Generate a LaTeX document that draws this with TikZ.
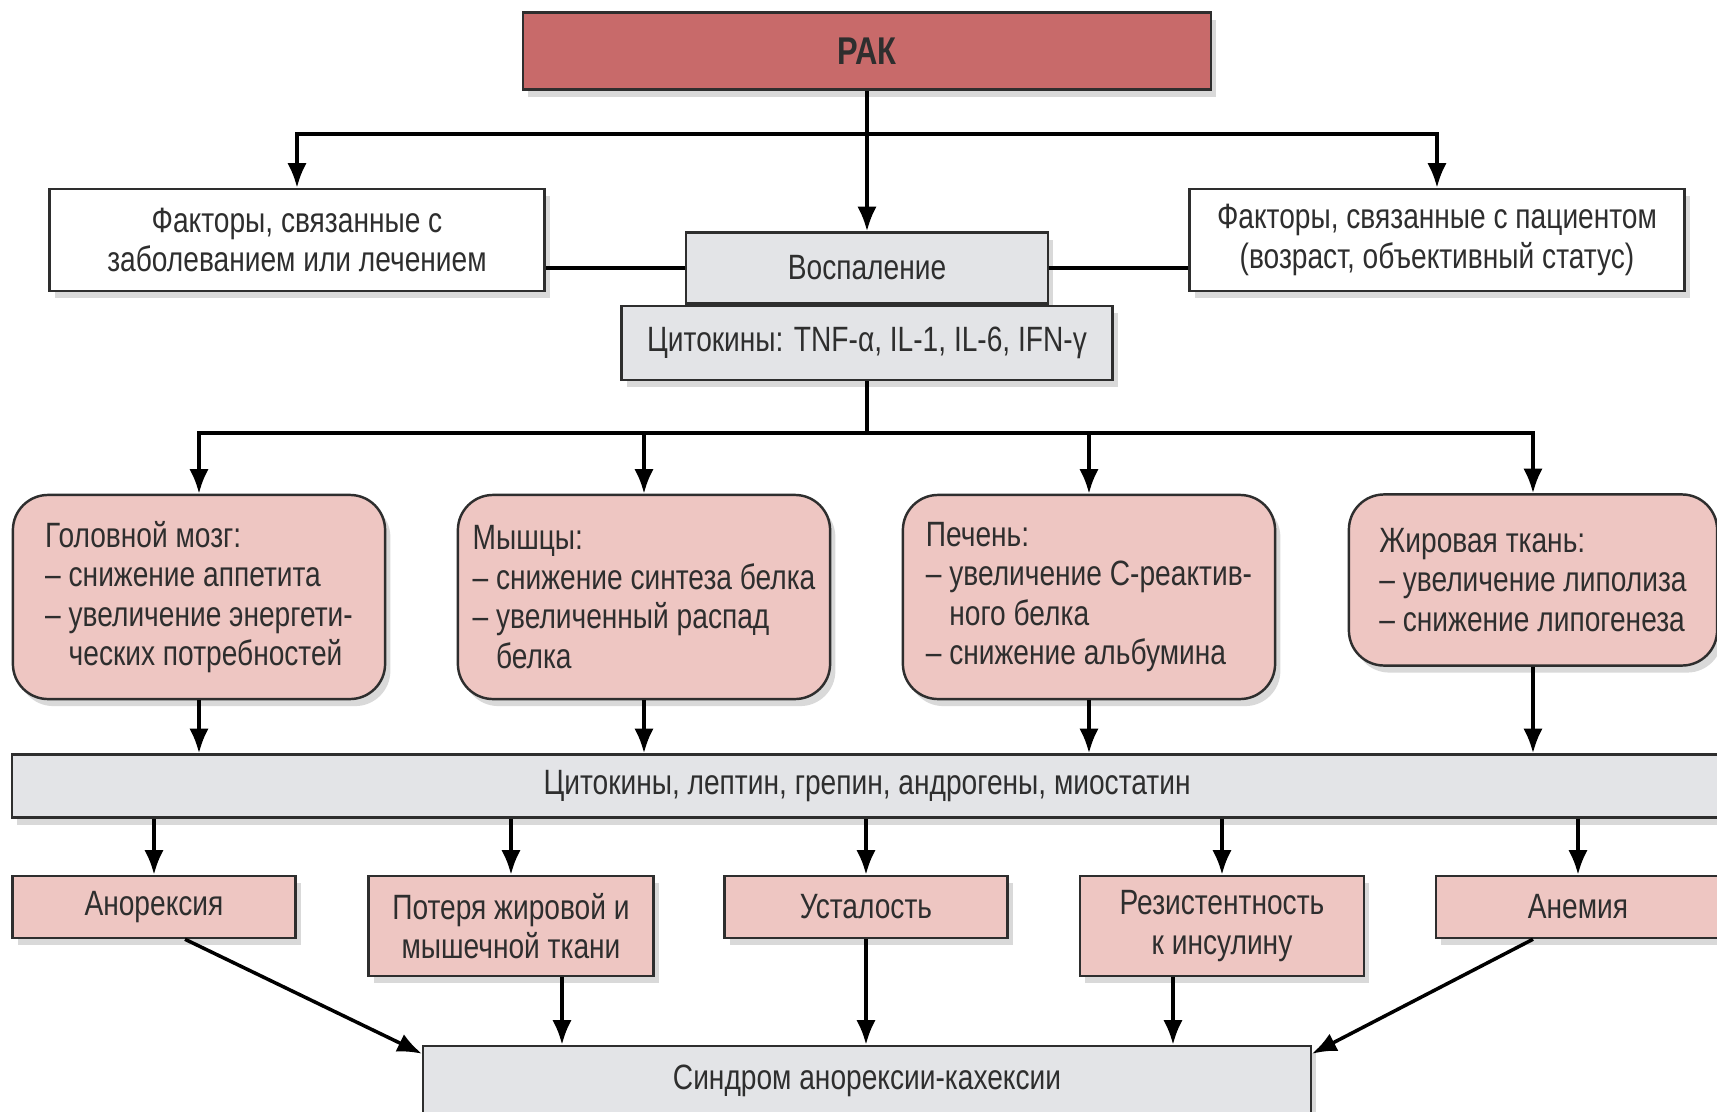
\documentclass[tikz,border=0pt]{standalone}
\usepackage{fontspec}
\setmainfont{Liberation Sans}[FakeStretch=0.8]
\usetikzlibrary{arrows.meta,positioning,shadows,calc}
\definecolor{rakred}{HTML}{C86A6A}
\definecolor{organpink}{HTML}{EEC6C2}
\definecolor{cytgray}{HTML}{E3E4E7}
\definecolor{inkgray}{HTML}{2E2E2E}

\begin{document}
\begin{tikzpicture}[x=0.01cm, y=-0.01cm,
  box/.style={draw=inkgray, line width=0.7pt, fill=white, align=center, inner sep=2pt, text=inkgray, font=\fontsize{10}{11.2}\selectfont, drop shadow={shadow xshift=1.5pt, shadow yshift=-2pt, opacity=0.3}},
  graybox/.style={box, fill=cytgray},
  pinkbox/.style={box, fill=organpink},
  organ/.style={pinkbox, rounded corners=10pt, minimum width=3.72cm, minimum height=2.04cm, align=left},
  arr/.style={-{Latex[length=7pt, width=5.5pt]}, line width=1pt},
  link/.style={line width=1pt}
]
\useasboundingbox (0,0) rectangle (1717,1112);
\node[box, fill=rakred, minimum width=6.88cm, minimum height=0.77cm, font=\bfseries\fontsize{11}{13}\selectfont] (rak) at (867,51) {РАК};
\node[box, minimum width=4.95cm, minimum height=1.02cm] (fdis) at (297,240) {Факторы, связанные с\\заболеванием или лечением};
\node[box, minimum width=4.95cm, minimum height=1.02cm] (fpat) at (1437,240) {Факторы, связанные с пациентом\\(возраст, объективный статус)};
\node[graybox, minimum width=3.62cm, minimum height=0.71cm] (infl) at (867,268) {Воспаление};
\node[graybox, minimum width=4.91cm, minimum height=0.74cm, below=0pt of infl] (cyt) {Цитокины: TNF-α, IL-1, IL-6, IFN-γ};

\node[organ] (brain) at (199,597) {Головной мозг:\\– снижение аппетита\\– увеличение энергети-\\\phantom{– }ческих потребностей};
\node[organ] (muscle) at (644,597) {Мышцы:\\– снижение синтеза белка\\– увеличенный распад\\\phantom{– }белка};
\node[organ] (liver) at (1089,597) {Печень:\\– увеличение С-реактив-\\\phantom{– }ного белка\\– снижение альбумина};
\node[organ, minimum width=3.68cm, minimum height=1.71cm] (fat) at (1533,580) {Жировая ткань:\\– увеличение липолиза\\– снижение липогенеза};

\node[graybox, minimum width=17.09cm, minimum height=0.63cm] (band) at (867,786) {Цитокины, лептин, грепин, андрогены, миостатин};

\node[pinkbox, minimum width=2.83cm, minimum height=0.62cm] (anor) at (154,907) {Анорексия};
\node[pinkbox, minimum width=2.85cm, minimum height=1cm] (loss) at (511,926) {Потеря жировой и\\мышечной ткани};
\node[pinkbox, minimum width=2.83cm, minimum height=0.62cm] (fatig) at (866,907) {Усталость};
\node[pinkbox, minimum width=2.84cm, minimum height=1cm] (ins) at (1222,926) {Резистентность\\к инсулину};
\node[pinkbox, minimum width=2.84cm, minimum height=0.62cm] (anem) at (1578,907) {Анемия};
\node[graybox, minimum width=8.87cm, minimum height=0.7cm] (synd) at (867,1081) {Синдром анорексии-кахексии};

\coordinate (split) at (867,134);
\draw[arr] (rak.south) -- (infl.north);
\draw[arr] (split) -| (fdis.north);
\draw[arr] (split) -| (fpat.north);
\draw[link] (fdis.east |- infl.west) -- (infl.west);
\draw[link] (infl.east) -- (infl.east -| fpat.west);

\coordinate (fan) at (867,433);
\draw[link] (cyt.south) -- (fan);
\foreach \o in {brain,muscle,liver,fat}
  \draw[arr] (fan) -| (\o.north);
\foreach \o in {brain,muscle,liver,fat}
  \draw[arr] (\o.south) -- (\o.south |- band.north);
\foreach \s in {anor,loss,fatig,ins,anem}
  \draw[arr] (\s.north |- band.south) -- (\s.north);

\coordinate (lossout) at ($(loss.south)+(51,0)$);
\coordinate (insout) at ($(ins.south)+(-49,0)$);
\draw[arr] ($(anor.south)+(31,0)$) -- ($(synd.north west)+(0,9)$);
\draw[arr] (lossout) -- (lossout |- synd.north);
\draw[arr] (fatig.south) -- (fatig.south |- synd.north);
\draw[arr] (insout) -- (insout |- synd.north);
\draw[arr] ($(anem.south)+(-45,0)$) -- ($(synd.north east)+(0,9)$);
\end{tikzpicture}
\end{document}
